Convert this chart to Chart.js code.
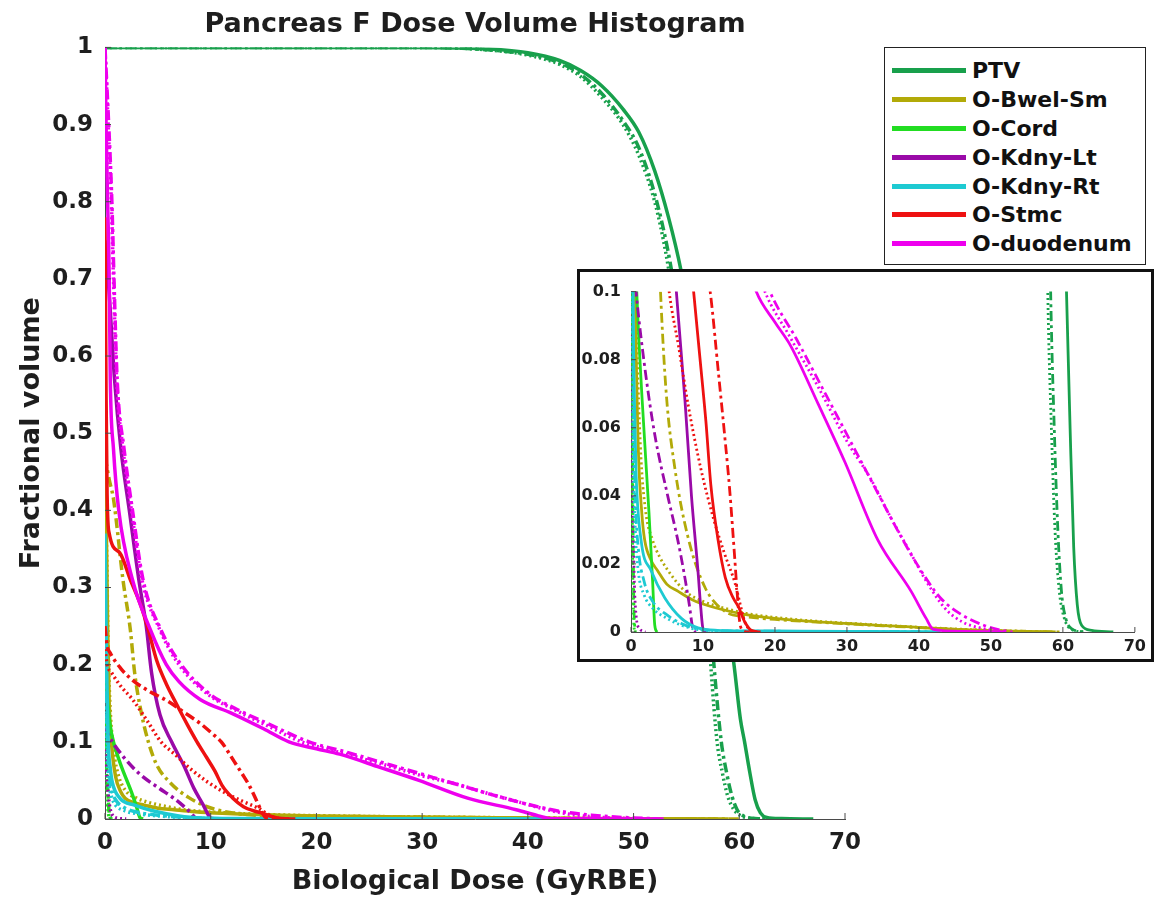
<!DOCTYPE html>
<html>
<head>
<meta charset="utf-8">
<script src="https://cdn.jsdelivr.net/npm/chart.js@4.4.1/dist/chart.umd.min.js"></script>
<style>
  body { margin: 0; background: #fff; font-family: 'DejaVu Sans', sans-serif; }
  #wrap { position: relative; width: 1157px; height: 904px; }
  #mainChart { position: absolute; left: 0; top: 0; }
  #insetBox { position: absolute; left: 577px; top: 269px; width: 577px; height: 393px;
              border: 3px solid #111; box-sizing: border-box; background: #fff; }
  #legendBox { position: absolute; left: 884px; top: 47px; width: 262px; height: 218px;
               border: 1px solid #222; box-sizing: border-box; background: #fff; padding-top: 8px; }
  .row { display: flex; align-items: center; height: 28.9px; }
  .swatch { width: 74px; height: 5px; margin-left: 7px; }
  .label { margin-left: 6px; font-weight: bold; font-size: 22px; color: #111; white-space: nowrap; }
</style>
</head>
<body>
<div id="wrap">
  <canvas id="mainChart" width="1157" height="904"></canvas>
  <div id="insetBox"><canvas id="insetChart" width="571" height="387"></canvas></div>
  <div id="legendBox"></div>
</div>
<script>
// structures and colours
const organs = ['PTV', 'O-Bwel-Sm', 'O-Cord', 'O-Kdny-Lt', 'O-Kdny-Rt', 'O-Stmc', 'O-duodenum'];
const organColors = ['#18a04c', '#b2aa08', '#22dd22', '#9a0aa8', '#1ecad2', '#ee1111', '#ee00ee'];

// axis ticks
const xTicks = [0, 10, 20, 30, 40, 50, 60, 70];
const xTickLabels = ['0', '10', '20', '30', '40', '50', '60', '70'];
const yTicks = [0, 0.1, 0.2, 0.3, 0.4, 0.5, 0.6, 0.7, 0.8, 0.9, 1];
const yTickLabels = ['0', '0.1', '0.2', '0.3', '0.4', '0.5', '0.6', '0.7', '0.8', '0.9', '1'];
const insetYTicks = [0, 0.02, 0.04, 0.06, 0.08, 0.1];
const insetYTickLabels = ['0', '0.02', '0.04', '0.06', '0.08', '0.1'];

// DVH curves: [dose (GyRBE), fractional volume]
const ptvSolid = [[0,1],[30,1],[36,0.998],[40,0.993],[43,0.983],[45,0.97],[47,0.95],[49,0.92],[50.5,0.89],[52,0.84],[53.3,0.78],[54.5,0.71],[55.5,0.63],[56.3,0.55],[57.2,0.45],[58,0.36],[58.8,0.27],[59.5,0.2],[60.1,0.13],[60.5,0.1],[61,0.06],[61.5,0.025],[62,0.008],[62.6,0.002],[64,0.0005],[67,0]];
const ptvDashDot = [[0,1],[30,1],[36,0.997],[40,0.991],[43,0.98],[45,0.965],[47,0.94],[49,0.905],[50.5,0.87],[52,0.81],[53.2,0.74],[54.2,0.66],[55,0.58],[55.8,0.49],[56.5,0.39],[57.1,0.29],[57.6,0.2],[58.3,0.1],[58.8,0.06],[59.3,0.03],[59.8,0.012],[60.4,0.004],[61.2,0.001],[63,0]];
const ptvDotted = [[0,1],[30,1],[36,0.997],[40,0.99],[43,0.978],[45,0.962],[47,0.935],[49,0.9],[50.5,0.86],[52,0.8],[53.1,0.73],[54,0.65],[54.8,0.57],[55.6,0.48],[56.3,0.38],[56.9,0.29],[57.3,0.2],[57.9,0.1],[58.4,0.06],[58.9,0.03],[59.5,0.012],[60.2,0.004],[61,0.001],[63,0]];

const bwelSolid = [[0,0.45],[0.1,0.4],[0.25,0.25],[0.4,0.15],[0.6,0.1],[1,0.055],[1.5,0.035],[1.9,0.027],[2.8,0.021],[3.7,0.018],[5,0.014],[6.5,0.012],[8.5,0.0095],[11.1,0.0075],[15.8,0.0052],[20,0.004],[25,0.0031],[30,0.0025],[35,0.0019],[38.9,0.0015],[42,0.0011],[45.8,0.0007],[50,0.0004],[55,0.0002],[59,0]];
const bwelDashDot = [[0,0.47],[0.4,0.44],[0.8,0.415],[1.7,0.31],[2.4,0.245],[2.8,0.19],[3.4,0.14],[4.1,0.1],[4.9,0.07],[6.1,0.048],[7.9,0.028],[10.3,0.013],[13.1,0.006],[16,0.0045],[20,0.0037],[25,0.003],[30,0.0024],[35,0.0018],[40,0.0013],[45,0.0008],[50,0.0004],[55,0.0002],[60,0]];
const bwelDotted = [[0,0.42],[0.15,0.35],[0.3,0.22],[0.5,0.14],[0.8,0.09],[1.3,0.055],[2,0.036],[3,0.027],[4,0.022],[5.5,0.017],[7.5,0.012],[10,0.009],[13,0.007],[16,0.0055],[20,0.0043],[25,0.0033],[30,0.0026],[35,0.002],[40,0.0014],[45,0.0009],[50,0.0005],[55,0.0002],[58,0]];

const cordSolid = [[0,0.2],[0.2,0.16],[0.5,0.12],[0.8,0.1],[1.5,0.07],[2.5,0.035],[3,0.015],[3.3,0.002],[3.6,0]];
const cordDashDot = [[0,0.13],[0.1,0.09],[0.25,0.04],[0.4,0.008],[0.6,0]];
const cordDotted = [[0,0.11],[0.1,0.07],[0.2,0.03],[0.35,0.005],[0.5,0]];

const kdnyLtSolid = [[0,0.75],[0.4,0.68],[0.9,0.57],[1.5,0.48],[2.3,0.4],[3.2,0.31],[3.9,0.25],[4.4,0.19],[5.2,0.135],[6.3,0.1],[7.5,0.068],[8.4,0.04],[9.3,0.018],[9.7,0.007],[10,0.001],[10.5,0]];
const kdnyLtDashDot = [[0,0.12],[0.3,0.11],[0.7,0.1],[1.9,0.078],[3.3,0.058],[5.1,0.04],[6.5,0.027],[7.4,0.017],[8.1,0.008],[8.6,0.001],[9,0]];
const kdnyLtDotted = [[0,0.09],[0.2,0.05],[0.4,0.02],[0.7,0.005],[1.2,0.001],[2,0]];

const kdnyRtSolid = [[0,0.37],[0.1,0.25],[0.2,0.16],[0.3,0.1],[0.5,0.066],[0.7,0.047],[1.4,0.027],[2.8,0.018],[4.7,0.01],[7,0.004],[9.3,0.0012],[12,0.0005],[20,0.0003],[30,0.0002],[42.5,0.0001],[43,0]];
const kdnyRtDashDot = [[0,0.3],[0.1,0.2],[0.2,0.12],[0.35,0.07],[0.6,0.04],[1,0.025],[1.8,0.015],[3,0.009],[5,0.005],[7,0.0025],[9,0.001],[12,0.0004],[25,0.0002],[40,0.0001],[42,0]];
const kdnyRtDotted = [[0,0.25],[0.1,0.15],[0.2,0.09],[0.35,0.05],[0.6,0.03],[1,0.018],[1.8,0.011],[3,0.007],[5,0.004],[7,0.002],[9,0.0008],[12,0.0003],[25,0.0001],[38,0]];

const stmcSolid = [[0,0.78],[0.1,0.55],[0.2,0.42],[0.4,0.37],[1.4,0.345],[2.4,0.31],[3.3,0.28],[4,0.25],[4.9,0.205],[5.8,0.175],[6.8,0.148],[7.8,0.122],[8.7,0.1],[9.6,0.08],[10.4,0.062],[11.1,0.043],[12.1,0.027],[13.1,0.016],[14.2,0.01],[14.9,0.0075],[15.8,0.003],[16.7,0.0005],[18,0]];
const stmcDashDot = [[0,0.25],[0.2,0.225],[0.5,0.215],[1.5,0.195],[2.6,0.18],[4,0.167],[5.9,0.153],[7.5,0.138],[9,0.124],[10.2,0.11],[11,0.1],[12.2,0.075],[13,0.058],[13.7,0.042],[14.4,0.022],[14.8,0.01],[15.1,0.003],[15.5,0.0005],[16.5,0]];
const stmcDotted = [[0,0.22],[0.2,0.2],[0.6,0.19],[1.5,0.172],[2.6,0.155],[4,0.127],[5.3,0.1],[6.6,0.084],[8,0.066],[9.7,0.048],[11.5,0.033],[13,0.023],[14.5,0.014],[15.3,0.007],[15.8,0.003],[16.5,0.0007],[17.5,0]];

const duodSolid = [[0,1],[0.1,0.9],[0.25,0.8],[0.4,0.7],[0.5,0.57],[0.8,0.48],[1.3,0.4],[2.6,0.31],[4.3,0.245],[5.8,0.2],[7,0.178],[9,0.155],[12,0.137],[15,0.117],[17.4,0.1],[20,0.091],[22.2,0.084],[26,0.067],[29.7,0.05],[34.3,0.027],[38.9,0.012],[41,0.004],[42,0.0008],[46,0.0002],[52,0]];
const duodDashDot = [[0,1],[0.35,0.9],[0.65,0.8],[0.85,0.7],[1.15,0.57],[1.8,0.48],[2.6,0.4],[3.6,0.31],[5.3,0.245],[7.2,0.2],[9.9,0.162],[12.5,0.142],[15.5,0.123],[19.3,0.1],[23,0.086],[27,0.07],[31,0.054],[34,0.042],[37,0.03],[40,0.019],[43,0.01],[46,0.005],[49,0.002],[52,0.0003],[53,0]];
const duodDotted = [[0,1],[0.3,0.9],[0.6,0.8],[0.8,0.7],[1.1,0.57],[1.7,0.48],[2.5,0.4],[3.5,0.31],[5.2,0.245],[7,0.2],[9.9,0.16],[12.5,0.14],[15.5,0.12],[18.6,0.1],[22,0.087],[26,0.072],[30,0.056],[33.3,0.045],[36,0.034],[38.9,0.023],[41,0.015],[43.6,0.007],[46,0.003],[49,0.001],[52,0]];

// one row per organ: solid, dash-dot, dotted plans
const organCurves = [
  [ptvSolid, ptvDashDot, ptvDotted],
  [bwelSolid, bwelDashDot, bwelDotted],
  [cordSolid, cordDashDot, cordDotted],
  [kdnyLtSolid, kdnyLtDashDot, kdnyLtDotted],
  [kdnyRtSolid, kdnyRtDashDot, kdnyRtDotted],
  [stmcSolid, stmcDashDot, stmcDotted],
  [duodSolid, duodDashDot, duodDotted]
];
const dashStyles = [[], [10, 4, 3, 4], [2, 3]];

const FONT = "'DejaVu Sans', sans-serif";
const TEXT = '#1e1e1e';
const AXIS = '#4a4a4a';

const makeDatasets = (width) => {
  const sets = [];
  organCurves.forEach((curves, i) => {
    curves.forEach((pts, k) => {
      sets.push({
        label: organs[i],
        data: pts.map(p => ({ x: p[0], y: p[1] })),
        borderColor: organColors[i],
        borderWidth: width,
        borderDash: dashStyles[k],
        pointRadius: 0,
        fill: false,
        cubicInterpolationMode: 'monotone',
        order: 100 - i * 3 - k // later organs on top
      });
    });
  });
  return sets;
};

// small tick marks pointing into the plot
const inwardTicks = {
  id: 'inwardTicks',
  afterDatasetsDraw(chart, args, opts) {
    const { ctx, scales: { x, y } } = chart;
    ctx.save();
    ctx.strokeStyle = AXIS;
    ctx.lineWidth = 1;
    ctx.beginPath();
    x.ticks.forEach(t => {
      const px = x.getPixelForValue(t.value);
      ctx.moveTo(px, y.bottom);
      ctx.lineTo(px, y.bottom - opts.len);
    });
    y.ticks.forEach(t => {
      const py = y.getPixelForValue(t.value);
      ctx.moveTo(x.left, py);
      ctx.lineTo(x.left + opts.len, py);
    });
    ctx.stroke();
    ctx.restore();
  }
};

const axisOptions = (min, max, ticks, labels, size, pad, fit) => ({
  type: 'linear',
  min: min,
  max: max,
  afterBuildTicks: s => { s.ticks = ticks.map(v => ({ value: v })); },
  ticks: {
    callback: (v) => labels[ticks.indexOf(v)],
    font: { family: FONT, size: size, weight: 'bold' },
    color: TEXT,
    padding: pad,
    maxRotation: 0,
    autoSkip: false
  },
  grid: { display: false, drawTicks: false },
  border: { display: true, color: AXIS, width: 1 },
  afterFit: fit
});

// main chart
const mainX = axisOptions(0, 70, xTicks, xTickLabels, 23, 10, s => { s.height = 85; });
mainX.title = { display: true, text: 'Biological Dose (GyRBE)', color: TEXT,
  font: { family: FONT, size: 27, weight: 'bold' }, padding: { top: 0, bottom: 6 } };
const mainY = axisOptions(0, 1, yTicks, yTickLabels, 23, 12, s => { s.width = 105; });
mainY.title = { display: true, text: 'Fractional volume', color: TEXT,
  font: { family: FONT, size: 27, weight: 'bold' }, padding: { top: 16, bottom: 0 } };

new Chart(document.getElementById('mainChart'), {
  type: 'line',
  data: { datasets: makeDatasets(3.5) },
  options: {
    responsive: false,
    animation: false,
    layout: { padding: { top: 0, right: 312, bottom: 0, left: 0 } },
    scales: { x: mainX, y: mainY },
    plugins: {
      legend: { display: false },
      tooltip: { enabled: false },
      title: {
        display: true,
        fullSize: false,
        text: 'Pancreas F Dose Volume Histogram',
        color: TEXT,
        font: { family: FONT, size: 27, weight: 'bold' },
        padding: { top: 9, bottom: 6 }
      },
      inwardTicks: { len: 6 }
    }
  },
  plugins: [inwardTicks]
});

// zoomed inset (0 - 0.1)
new Chart(document.getElementById('insetChart'), {
  type: 'line',
  data: { datasets: makeDatasets(2.8) },
  options: {
    responsive: false,
    animation: false,
    layout: { padding: { top: 13, right: 16, bottom: 0, left: 0 } },
    scales: {
      x: axisOptions(0, 70, xTicks, xTickLabels, 16, 5, s => { s.height = 27; }),
      y: axisOptions(0, 0.1, insetYTicks, insetYTickLabels, 16, 10, s => { s.width = 51; })
    },
    plugins: {
      legend: { display: false },
      tooltip: { enabled: false },
      inwardTicks: { len: 5 }
    }
  },
  plugins: [inwardTicks]
});

// legend: one solid line per organ
const legendBox = document.getElementById('legendBox');
organs.forEach((name, i) => {
  const row = document.createElement('div');
  row.className = 'row';
  const sw = document.createElement('div');
  sw.className = 'swatch';
  sw.style.background = organColors[i];
  const lb = document.createElement('span');
  lb.className = 'label';
  lb.textContent = name;
  row.appendChild(sw);
  row.appendChild(lb);
  legendBox.appendChild(row);
});
</script>
</body>
</html>
